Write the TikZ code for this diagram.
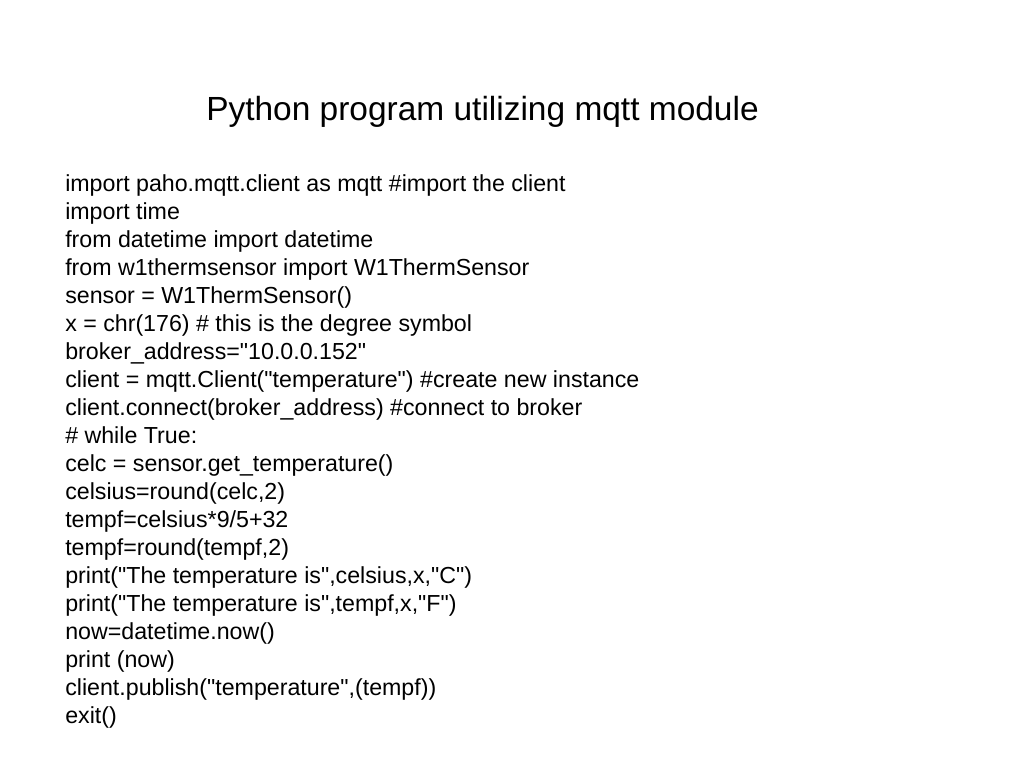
\documentclass[tikz,border=0pt]{standalone}
\usepackage{fontspec}
\newfontfamily\slidefont{Liberation Sans}
\begin{document}
\begin{tikzpicture}[x=0.75pt,y=-0.75pt,
  codeline/.style={anchor=base west,inner sep=0pt,font=\slidefont\fontsize{17.4pt}{21pt}\selectfont},
  titletext/.style={anchor=base,inner sep=0pt,font=\slidefont\fontsize{25.1pt}{30pt}\selectfont}]
\useasboundingbox[fill=white] (0,0) rectangle (1024,768);
\node[titletext] (title) at (482.5,120) {Python program utilizing mqtt module};
\foreach \t [count=\i from 0] in {
  {import paho.mqtt.client as mqtt \#import the client},
  {import time},
  {from datetime import datetime},
  {from w1thermsensor import W1ThermSensor},
  {sensor = W1ThermSensor()},
  {x = chr(176) \# this is the degree symbol},
  {broker\_address="10.0.0.152"},
  {client = mqtt.Client("temperature") \#create new instance},
  {client.connect(broker\_address) \#connect to broker},
  {\# while True:},
  {celc = sensor.get\_temperature()},
  {celsius=round(celc,2)},
  {tempf=celsius*9/5+32},
  {tempf=round(tempf,2)},
  {print("The temperature is",celsius,x,"C")},
  {print("The temperature is",tempf,x,"F")},
  {now=datetime.now()},
  {print (now)},
  {client.publish("temperature",(tempf))},
  {exit()}}
  \node[codeline] (line\i) at (65,191+28*\i) {\t};
\end{tikzpicture}
\end{document}
